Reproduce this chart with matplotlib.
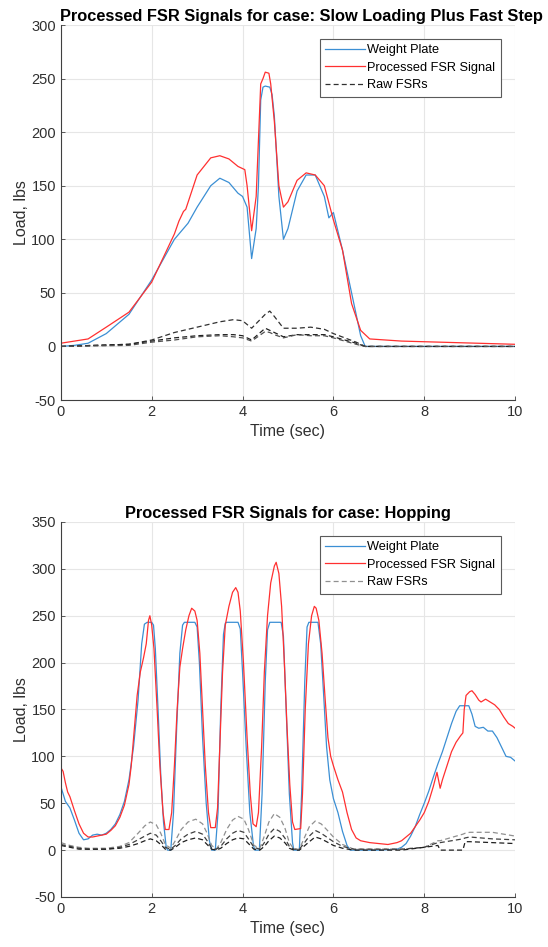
"""Processed FSR signals vs weight plate, two loading cases."""
import matplotlib
matplotlib.use("Agg")
import matplotlib.pyplot as plt

plt.rcParams["font.family"] = ["Liberation Sans", "DejaVu Sans"]
plt.rcParams["axes.unicode_minus"] = False

# ---- case 1: slow loading plus fast step ----
slow_plate_t = [0, 0.3, 0.6, 1.0, 1.5, 2.0, 2.5, 2.8, 3.0, 3.3, 3.5, 3.7, 3.9, 4.0, 4.1,
                4.2, 4.3, 4.35, 4.4, 4.45, 4.5, 4.6, 4.65, 4.7, 4.8, 4.9, 5.0, 5.2, 5.4,
                5.6, 5.8, 5.9, 6.0, 6.2, 6.4, 6.6, 6.7, 10]
slow_plate = [0, 1, 3, 12, 30, 62, 100, 115, 130, 150, 157, 153, 143, 140, 130,
              82, 110, 150, 230, 242, 243, 242, 235, 215, 140, 100, 110, 145, 160,
              160, 140, 120, 125, 90, 50, 10, 0, 0]

slow_fsr_t = [0, 0.6, 1.0, 1.5, 2.0, 2.5, 2.6, 2.7, 2.75, 3.0, 3.3, 3.5, 3.7, 3.9, 4.05,
              4.1, 4.2, 4.3, 4.4, 4.45, 4.5, 4.58, 4.62, 4.7, 4.8, 4.9, 5.0, 5.2, 5.4,
              5.6, 5.8, 6.0, 6.2, 6.4, 6.6, 6.8, 7.5, 10]
slow_fsr = [3, 7, 18, 32, 60, 105, 117, 126, 128, 160, 176, 178, 175, 168, 165,
            150, 108, 140, 245, 250, 256, 255, 245, 210, 150, 130, 135, 155, 162,
            160, 150, 118, 90, 40, 15, 7, 5, 2]

slow_raw_t = [0, 1.5, 2.0, 2.5, 3.0, 3.5, 3.8, 4.0, 4.2, 4.5, 4.6, 4.7, 4.9, 5.2, 5.5,
              5.8, 6.0, 6.5, 6.7, 10]
slow_raw_a = [0, 2, 6, 13, 18, 23, 25, 24, 17, 30, 33, 28, 17, 17, 18, 16, 12, 4, 0, 0]
slow_raw_b = [0, 2, 5, 8, 10, 11, 11, 10, 6, 17, 15, 13, 9, 11, 11, 11, 9, 3, 0, 0]
slow_raw_c = [0, 1, 4, 6, 9, 10, 9, 8, 5, 14, 13, 11, 8, 11, 10, 10, 8, 2, 0, 0]

# ---- case 2: hopping ----
hop_plate_t = [0, 0.1, 0.2, 0.3, 0.4, 0.5, 0.6, 0.7, 0.8, 0.9, 1.0, 1.1, 1.2, 1.3, 1.4,
               1.5, 1.6, 1.7, 1.78, 1.84, 1.9, 2.0, 2.04, 2.08, 2.14, 2.2, 2.26, 2.32,
               2.35, 2.42, 2.48, 2.55, 2.62, 2.68, 2.72, 2.95, 3.0, 3.05, 3.12, 3.2,
               3.27, 3.32, 3.4, 3.46, 3.52, 3.58, 3.62, 3.65, 3.9, 3.95, 4.0, 4.08, 4.16,
               4.24, 4.27, 4.37, 4.43, 4.5, 4.55, 4.6, 4.85, 4.9, 4.96, 5.03, 5.1, 5.13,
               5.25, 5.3, 5.37, 5.42, 5.46, 5.66, 5.72, 5.78, 5.85, 5.92, 6.0, 6.1, 6.2,
               6.3, 6.37, 7.0, 7.4, 7.5, 7.6, 7.7, 7.8, 7.9, 8.0, 8.1, 8.2, 8.3, 8.4,
               8.5, 8.6, 8.7, 8.78, 8.98, 9.05, 9.12, 9.2, 9.3, 9.4, 9.5, 9.6, 9.7, 9.8,
               9.9, 10]
hop_plate = [68, 52, 45, 32, 18, 11, 12, 16, 17, 16, 18, 22, 28, 38, 52,
             75, 110, 160, 220, 241, 243, 243, 240, 215, 150, 80, 30, 3,
             0, 0, 40, 130, 210, 240, 243, 243, 238, 200, 120, 50,
             10, 0, 0, 40, 150, 230, 242, 243, 243, 236, 190, 110, 40,
             5, 0, 0, 60, 180, 235, 243, 243, 228, 150, 60, 8, 0,
             0, 60, 180, 238, 243, 243, 220, 170, 110, 75, 55, 40, 20,
             5, 0, 0, 1, 3, 7, 15, 25, 38, 50, 63, 78, 92, 105,
             120, 135, 148, 154, 154, 145, 132, 130, 131, 127, 127, 120, 110, 100,
             99, 95]

hop_fsr_t = [0, 0.05, 0.1, 0.15, 0.2, 0.3, 0.4, 0.5, 0.6, 0.7, 0.8, 0.9, 1.0, 1.1, 1.2,
             1.3, 1.4, 1.5, 1.55, 1.62, 1.68, 1.75, 1.82, 1.88, 1.93, 1.96, 2.0, 2.05,
             2.12, 2.18, 2.25, 2.3, 2.38, 2.44, 2.5, 2.56, 2.62, 2.68, 2.75, 2.82, 2.88,
             2.95, 3.0, 3.06, 3.12, 3.18, 3.25, 3.3, 3.4, 3.45, 3.5, 3.56, 3.62, 3.7,
             3.78, 3.85, 3.9, 3.95, 4.02, 4.1, 4.17, 4.23, 4.3, 4.35, 4.42, 4.48, 4.55,
             4.62, 4.7, 4.74, 4.8, 4.86, 4.92, 4.98, 5.04, 5.1, 5.15, 5.28, 5.32, 5.38,
             5.45, 5.52, 5.58, 5.62, 5.68, 5.75, 5.82, 5.88, 5.94, 6.0, 6.1, 6.2, 6.3,
             6.4, 6.5, 6.6, 6.8, 7.0, 7.2, 7.4, 7.5, 7.6, 7.7, 7.8, 7.9, 8.0, 8.1, 8.2,
             8.28, 8.35, 8.4, 8.5, 8.6, 8.7, 8.8, 8.85, 8.88, 8.92, 9.0, 9.05, 9.12,
             9.2, 9.25, 9.35, 9.45, 9.55, 9.65, 9.75, 9.85, 9.95, 10]
hop_fsr = [88, 84, 72, 62, 57, 42, 28, 18, 14, 14, 15, 16, 17, 21, 26,
           35, 48, 70, 90, 130, 165, 190, 205, 220, 245, 250, 240, 215,
           150, 90, 40, 22, 22, 40, 90, 150, 195, 215, 235, 250, 258,
           255, 245, 210, 150, 90, 40, 24, 24, 45, 110, 190, 240, 260,
           275, 280, 275, 255, 200, 120, 60, 28, 25, 40, 110, 190, 250,
           285, 303, 307, 295, 260, 200, 130, 70, 30, 22, 23, 60, 150,
           220, 250, 260, 258, 245, 210, 160, 120, 100, 90, 75, 62, 40,
           22, 13, 10, 8, 7, 6, 8, 10, 14, 18, 25, 32, 40, 52, 68,
           83, 66, 75, 90, 105, 115, 122, 125, 150, 165, 169, 170, 166,
           160, 158, 161, 158, 155, 150, 142, 135, 132, 130]

hop_raw_t = [0, 0.2, 0.4, 0.6, 1.0, 1.3, 1.5, 1.7, 1.85, 1.97, 2.1, 2.2, 2.3, 2.42, 2.52,
             2.65, 2.8, 2.97, 3.12, 3.22, 3.32, 3.42, 3.52, 3.65, 3.78, 3.9, 4.03, 4.13,
             4.25, 4.38, 4.48, 4.58, 4.7, 4.82, 4.93, 5.03, 5.13, 5.25, 5.35, 5.47, 5.6,
             5.73, 5.85, 6.0, 6.2, 6.45, 7.5, 8.0, 8.3, 8.35, 8.85, 8.9, 9.0, 9.5, 10]
hop_raw_a = [8, 5, 3, 2, 2, 4, 8, 18, 26, 30, 27, 18, 6, 2, 10,
             22, 30, 33, 28, 18, 5, 1, 8, 22, 32, 36, 33, 22,
             5, 2, 15, 30, 39, 35, 24, 8, 1, 1, 12, 25, 31,
             28, 22, 14, 6, 1, 1, 3, 10, 10, 17, 18, 19, 19, 15]
hop_raw_b = [6, 4, 2, 1, 1, 3, 6, 11, 15, 18, 16, 10, 3, 1, 5,
             12, 17, 20, 17, 10, 2, 1, 4, 12, 18, 21, 19, 12,
             3, 1, 8, 17, 23, 20, 13, 4, 1, 1, 7, 15, 21,
             18, 14, 9, 4, 1, 1, 3, 8, 8, 12, 13, 14, 12, 11]
hop_raw_c = [5, 3, 1, 1, 1, 2, 4, 7, 10, 12, 10, 6, 1, 0, 3,
             8, 11, 13, 11, 6, 1, 0, 2, 7, 11, 13, 12, 7,
             1, 0, 4, 10, 15, 13, 8, 2, 0, 0, 4, 9, 14,
             12, 9, 5, 2, 0, 0, 3, 5, 0, 0, 9, 9, 8, 7]

BLUE = "#3b8fd4"
RED = "#ff3030"
GRID = "#e6e6e6"
AXC = "#404040"


def style_axes(ax, ylim, yticks, title, title_x=0.5):
    ax.set_xlim(0, 10)
    ax.set_ylim(*ylim)
    ax.set_xticks(range(0, 11, 2))
    ax.set_yticks(yticks)
    ax.grid(True, color=GRID, linewidth=0.8)
    ax.set_axisbelow(True)
    for side in ("top", "right"):
        ax.spines[side].set_visible(False)
    for side in ("left", "bottom"):
        ax.spines[side].set_color(AXC)
        ax.spines[side].set_linewidth(0.8)
    ax.tick_params(colors=AXC, labelcolor="#303030", labelsize=10.5,
                   direction="in", length=3, width=0.6)
    ax.set_xlabel("Time (sec)", fontsize=11.5, color="#303030", labelpad=4)
    ax.set_ylabel("Load, lbs", fontsize=11.5, color="#303030", labelpad=2)
    ax.set_title(title, fontsize=11.8, fontweight="bold", pad=3, x=title_x)


def draw_case(ax, plate_t, plate, fsr_t, fsr, raw_t, raws, raw_colors):
    ax.plot(plate_t, plate, color=BLUE, lw=0.9, label="Weight Plate")
    ax.plot(fsr_t, fsr, color=RED, lw=0.9, label="Processed FSR Signal")
    for i, (r, c) in enumerate(zip(raws, raw_colors)):
        ax.plot(raw_t, r, color=c, lw=0.9, ls=(0, (4, 2.5)),
                label="Raw FSRs" if i == 0 else None)
    leg = ax.legend(loc="upper right", bbox_to_anchor=(0.968, 0.963), fontsize=9.2,
                    fancybox=False, framealpha=1, edgecolor="#5a5a5a",
                    handlelength=3.1, handletextpad=0.2, borderpad=0.4,
                    labelspacing=0.45, borderaxespad=0)
    leg.get_frame().set_linewidth(0.8)


fig = plt.figure(figsize=(5.48, 9.47), dpi=100)
ax1 = fig.add_axes([0.111, 0.5776, 0.829, 0.396])
ax2 = fig.add_axes([0.111, 0.0528, 0.829, 0.396])

draw_case(ax1, slow_plate_t, slow_plate, slow_fsr_t, slow_fsr, slow_raw_t,
          [slow_raw_a, slow_raw_b, slow_raw_c], ["#303030", "#202020", "#505050"])
style_axes(ax1, (-50, 300), range(-50, 301, 50),
           "Processed FSR Signals for case: Slow Loading Plus Fast Step", title_x=0.529)

draw_case(ax2, hop_plate_t, hop_plate, hop_fsr_t, hop_fsr, hop_raw_t,
          [hop_raw_a, hop_raw_b, hop_raw_c], ["#909090", "#404040", "#202020"])
style_axes(ax2, (-50, 350), range(-50, 351, 50),
           "Processed FSR Signals for case: Hopping")

fig.savefig("out.png", dpi=100)
